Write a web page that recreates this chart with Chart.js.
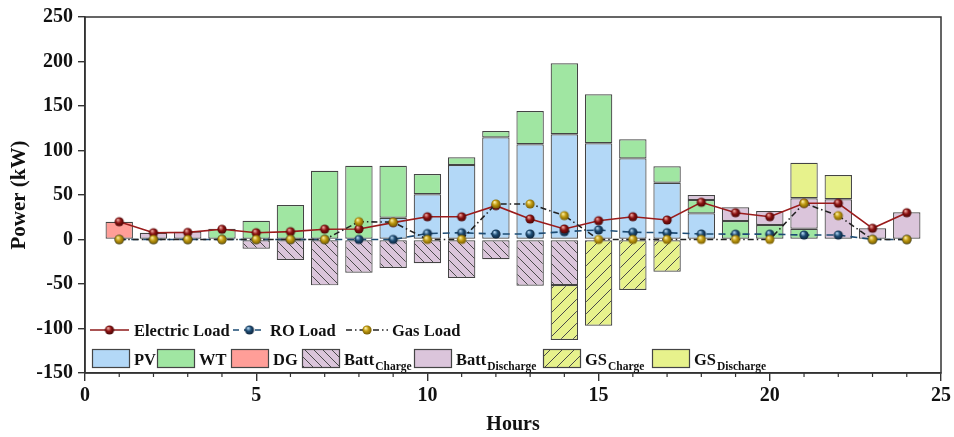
<!DOCTYPE html>
<html>
<head>
<meta charset="utf-8">
<script src="https://cdn.jsdelivr.net/npm/chart.js@4.4.0/dist/chart.umd.min.js"></script>
<style>
html, body { margin: 0; padding: 0; background: #fff; }
</style>
</head>
<body>
<canvas id="myChart" width="954" height="437"></canvas>
<script>
const hours = [1, 2, 3, 4, 5, 6, 7, 8, 9, 10, 11, 12, 13, 14, 15, 16, 17, 18, 19, 20, 21, 22, 23, 24];
const pv = [0, 0, 0, 0, 0, 0, 0, 0, 24.5, 50.8, 83.7, 114.8, 107, 118.2, 108.1, 91.2, 63.8, 29.4, 0, 0, 0, 0, 0, 0];
const wt = [0, 0, 0, 12.1, 21.1, 38.8, 77.3, 82.9, 58.4, 22.8, 8.7, 7.1, 37.4, 79.8, 55, 21.4, 18.4, 15, 20.8, 16.3, 12.1, 0, 0, 0];
const dg = [20, 0, 0, 0, 0, 0, 0, 0, 0, 0, 0, 0, 0, 0, 0, 0, 0, 0, 0, 0, 0, 0, 0, 0];
const battCharge = [0, 0, 0, 0, -10.3, -23, -51.5, -37.3, -32, -26.7, -43.3, -22.2, -51.9, -51.1, 0, 0, 0, 0, 0, 0, 0, 0, 0, 0];
const battDischarge = [0, 7.6, 8.8, 0, 0, 0, 0, 0, 0, 0, 0, 0, 0, 0, 0, 0, 0, 5.6, 15.4, 15.7, 34.2, 45.2, 12.6, 30.6];
const gsCharge = [0, 0, 0, 0, 0, 0, 0, 0, 0, 0, 0, 0, 0, -61.8, -96.9, -56.7, -36.2, 0, 0, 0, 0, 0, 0, 0];
const gsDischarge = [0, 0, 0, 0, 0, 0, 0, 0, 0, 0, 0, 0, 0, 0, 0, 0, 0, 0, 0, 0, 40, 27.3, 0, 0];
const electricLoad = [20, 7.6, 8, 11.5, 7.6, 8.8, 11.6, 11.8, 19, 25.5, 25.5, 38, 23, 11.8, 21.1, 25.6, 21.9, 41.8, 30.1, 25.6, 40.7, 40.7, 12.6, 30.1];
const roLoad = [0, 0, 0, 0, 0, 0, 0, 0, 0, 6.7, 7.6, 6.2, 6.2, 8.8, 10.7, 8.1, 7.6, 6.2, 6, 6, 5, 5, 0, 0];
const gasLoad = [0, 0, 0, 0, 0, 0, 0, 20, 19.5, 0, 0, 39.9, 39.9, 26.8, 0, 0, 0, 0, 0, 0, 40.7, 26.8, 0, 0];
const yTicks = [-150, 250, 50];
const xTicks = [0, 25, 5];

const FONT = "'Liberation Serif', 'Times New Roman', serif";
const cPV = '#b3d8f7', cWT = '#a0e6a2', cDG = '#ff9e98', cBatt = '#dbc5db', cGS = '#e7f28c';
const edge = '#444';

function hatch(bg, step, forward) {
    const c = document.createElement('canvas');
    c.width = c.height = step;
    const g = c.getContext('2d');
    g.fillStyle = bg;
    g.fillRect(0, 0, step, step);
    g.strokeStyle = '#4a4a4a';
    g.lineWidth = 1;
    for (const o of [-step, 0, step]) {
        g.beginPath();
        if (forward) { g.moveTo(o, step); g.lineTo(o + step, 0); }
        else { g.moveTo(o, 0); g.lineTo(o + step, step); }
        g.stroke();
    }
    return g.createPattern(c, 'repeat');
}
const battHatch = hatch(cBatt, 9, false);
const gsHatch = hatch(cGS, 12, true);

function ball(light, mid, dark) {
    const r = 4.6;
    const c = document.createElement('canvas');
    c.width = c.height = 12;
    const g = c.getContext('2d');
    const grad = g.createRadialGradient(4.5, 4, 0.3, 6, 6, r + 0.5);
    grad.addColorStop(0, light);
    grad.addColorStop(0.45, mid);
    grad.addColorStop(1, dark);
    g.fillStyle = grad;
    g.beginPath();
    g.arc(6, 6, r, 0, Math.PI * 2);
    g.fill();
    return c;
}
const ballE = ball('#f3b0a8', '#8e1212', '#3a0303');
const ballR = ball('#b5d8f5', '#1d4c74', '#0a1c30');
const ballG = ball('#fff3a8', '#c09a10', '#6a5200');

const pts = arr => hours.map((h, i) => ({ x: h, y: arr[i] === 0 ? null : arr[i] }));
const linePts = arr => hours.map((h, i) => ({ x: h, y: arr[i] }));

function barSet(label, arr, bg) {
    return {
        type: 'bar', label: label, data: pts(arr), backgroundColor: bg,
        borderColor: edge, borderWidth: 1.2, borderSkipped: false,
        barPercentage: 0.8, categoryPercentage: 1, order: 5, stack: 's'
    };
}
function lineSet(label, arr, color, dash, img, order) {
    return {
        type: 'line', label: label, data: linePts(arr), yAxisID: 'yL',
        borderColor: color, borderWidth: 1.6, borderDash: dash,
        pointStyle: img, pointRadius: 5, tension: 0, order: order, fill: false
    };
}

const legendPlugin = {
    id: 'frameLegend',
    afterDraw(chart) {
        const ctx = chart.ctx;
        const a = chart.chartArea;
        const xs = chart.scales.x;
        ctx.save();
        ctx.strokeStyle = '#333';
        ctx.lineWidth = 1.5;
        ctx.strokeRect(a.left, a.top, a.right - a.left, a.bottom - a.top);
        ctx.lineWidth = 1.2;
        for (const h of hours) {
            if (h % 5 === 0) continue;
            const px = xs.getPixelForValue(h);
            ctx.beginPath();
            ctx.moveTo(px, a.bottom);
            ctx.lineTo(px, a.bottom + 4);
            ctx.stroke();
        }

        // line legend row
        const ly = 330;
        const lines = [
            [90, 129, '#8e1a1a', [], ballE, 'Electric Load', 134],
            [233, 266, '#1d4c74', [6, 5], ballR, 'RO Load', 270],
            [346, 388, '#222', [6, 3, 1.5, 3], ballG, 'Gas Load', 392]
        ];
        ctx.font = 'bold 16.5px ' + FONT;
        ctx.fillStyle = '#111';
        ctx.textBaseline = 'alphabetic';
        for (const [x0, x1, col, dash, img, txt, tx] of lines) {
            ctx.strokeStyle = col;
            ctx.lineWidth = 1.6;
            ctx.setLineDash(dash);
            ctx.beginPath();
            ctx.moveTo(x0, ly);
            ctx.lineTo(x1, ly);
            ctx.stroke();
            ctx.setLineDash([]);
            ctx.drawImage(img, (x0 + x1) / 2 - 6, ly - 6);
            ctx.fillText(txt, tx, ly + 6);
        }

        // bar legend row
        const boxes = [
            [92, cPV, 'PV', ''], [157, cWT, 'WT', ''], [231, cDG, 'DG', ''],
            [302, battHatch, 'Batt', 'Charge'], [414, cBatt, 'Batt', 'Discharge'],
            [543, gsHatch, 'GS', 'Charge'], [652, cGS, 'GS', 'Discharge']
        ];
        for (const [bx, fill, txt, sub] of boxes) {
            ctx.fillStyle = fill;
            ctx.fillRect(bx, 349, 37, 18);
            ctx.strokeStyle = edge;
            ctx.lineWidth = 1.2;
            ctx.strokeRect(bx + 0.5, 349.5, 37, 18);
            ctx.fillStyle = '#111';
            ctx.font = 'bold 16.5px ' + FONT;
            ctx.fillText(txt, bx + 42, 365);
            if (sub) {
                const w = ctx.measureText(txt).width;
                ctx.font = 'bold 11.5px ' + FONT;
                ctx.fillText(sub, bx + 42 + w + 1, 369.5);
            }
        }
        ctx.restore();
    }
};

const ctx = document.getElementById('myChart').getContext('2d');
const myChart = new Chart(ctx, {
    data: {
        datasets: [
            lineSet('Gas Load', gasLoad, '#222', [6, 3, 1.5, 3], ballG, 0),
            lineSet('Electric Load', electricLoad, '#9a1c1c', [], ballE, 1),
            lineSet('RO Load', roLoad, '#1d4c74', [7, 5], ballR, 2),
            barSet('PV', pv, cPV),
            barSet('WT', wt, cWT),
            barSet('DG', dg, cDG),
            barSet('BattDischarge', battDischarge, cBatt),
            barSet('GSDischarge', gsDischarge, cGS),
            barSet('BattCharge', battCharge, battHatch),
            barSet('GSCharge', gsCharge, gsHatch)
        ]
    },
    options: {
        responsive: false,
        animation: false,
        layout: { padding: { top: 17, right: 13, left: 0, bottom: 0 } },
        plugins: { legend: { display: false }, tooltip: { enabled: false } },
        scales: {
            x: {
                type: 'linear', min: xTicks[0], max: xTicks[1], stacked: true, offset: false,
                ticks: { stepSize: xTicks[2], color: '#111', padding: 3, font: { family: FONT, size: 20, weight: 'bold' } },
                grid: { drawOnChartArea: false, offset: false, tickLength: 8, color: '#333', lineWidth: 1.4 },
                border: { color: '#333', width: 1.5 },
                title: { display: true, text: 'Hours', color: '#111', padding: { top: 0, bottom: 0 }, font: { family: FONT, size: 20, weight: 'bold' } },
                afterFit(scale) { scale.height = 64; }
            },
            y: {
                min: yTicks[0], max: yTicks[1], stacked: true,
                ticks: { stepSize: yTicks[2], color: '#111', padding: 5, font: { family: FONT, size: 20, weight: 'bold' } },
                grid: { drawOnChartArea: false, tickLength: 7, color: '#333', lineWidth: 1.4 },
                border: { color: '#333', width: 1.5 },
                title: { display: true, text: 'Power (kW)', color: '#111', padding: { top: 7, bottom: 0 }, font: { family: FONT, size: 21, weight: 'bold' } },
                afterFit(scale) { scale.width = 85; }
            },
            yL: { display: false, min: yTicks[0], max: yTicks[1] }
        }
    },
    plugins: [legendPlugin]
});
</script>
</body>
</html>
